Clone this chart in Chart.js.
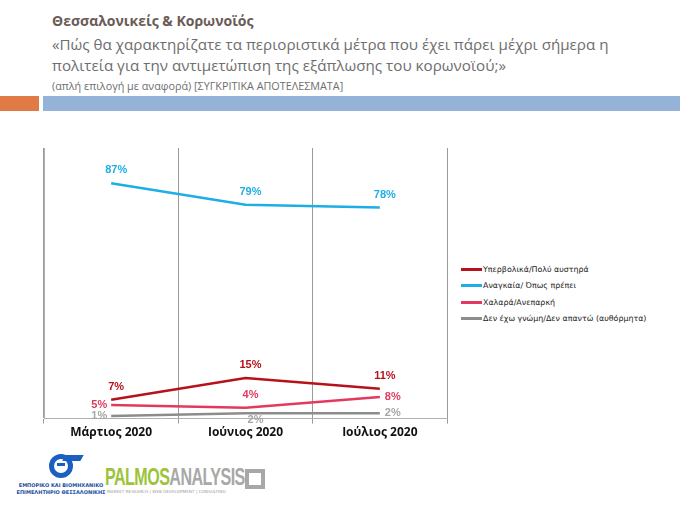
<!DOCTYPE html>
<html>
<head>
<meta charset="utf-8">
<script src="https://cdn.jsdelivr.net/npm/chart.js@4"></script>
<style>
  body { margin: 0; width: 680px; height: 510px; background: #fff; position: relative; overflow: hidden; font-family: "Open Sans", sans-serif; }
  .hdr { position: absolute; left: 52px; color: #6e6e6e; white-space: nowrap; }
  #title { top: 11px; font-size: 14px; font-weight: bold; color: #6b5b57; }
  #q1 { top: 34px; font-size: 15.2px; }
  #q2 { top: 55px; font-size: 15.2px; }
  #sub { top: 78px; font-size: 10.8px; }
  #barO { position: absolute; left: 0; top: 96px; width: 39px; height: 15px; background: #e07b45; }
  #barB { position: absolute; left: 43px; top: 96px; width: 637px; height: 15px; background: #95b3d7; }
  #wrap { position: absolute; left: 0; top: 130px; width: 455px; height: 320px; }
  #legend { position: absolute; left: 461px; top: 261px; font-family: "DejaVu Sans", sans-serif; font-size: 7.9px; color: #222; }
  #legend div { height: 16.5px; display: flex; align-items: center; }
  #legend span.sw { display: inline-block; width: 21px; height: 3px; margin-right: 1px; }
  #logo1 { position: absolute; left: 8px; top: 454px; width: 106px; text-align: center; color: #1b4fa0; font-size: 5px; font-weight: bold; font-family: "DejaVu Sans", sans-serif; line-height: 7px; white-space: nowrap; }
  #logo1 .ic { width: 24px; height: 24px; border-radius: 50%; border: 5px solid #1b5fc0; margin: 0 auto 4px auto; box-sizing: border-box; position: relative; }
  #logo1 .ic::after { content: ''; position: absolute; left: 3px; top: 4px; width: 8px; height: 3px; background: #1b5fc0; }
  #logo1 .wing { position: absolute; left: 56px; top: 1px; width: 18px; height: 6px; background: #1b5fc0; transform: skewX(-30deg); }
  #logo2 { position: absolute; left: 105px; top: 464px; font-family: "Liberation Sans", sans-serif; font-weight: bold; font-size: 23px; letter-spacing: -0.8px; transform: scaleX(0.7); transform-origin: left top; white-space: nowrap; }
  #logo2 .g { color: #9cc43b; }
  #logo2 .a { color: #a8a8a8; }
  #tag { position: absolute; left: 107px; top: 489px; font-family: "DejaVu Sans", sans-serif; font-size: 4.2px; color: #999; white-space: nowrap; }
  #sq { position: absolute; left: 245px; top: 469px; width: 12px; height: 12px; border: 4px solid #a8a8a8; }
</style>
</head>
<body>
<div id="title" class="hdr">Θεσσαλονικείς &amp; Κορωνοϊός</div>
<div id="q1" class="hdr">«Πώς θα χαρακτηρίζατε τα περιοριστικά μέτρα που έχει πάρει μέχρι σήμερα η</div>
<div id="q2" class="hdr">πολιτεία για την αντιμετώπιση της εξάπλωσης του κορωνοϊού;»</div>
<div id="sub" class="hdr">(απλή επιλογή με αναφορά) [ΣΥΓΚΡΙΤΙΚΑ ΑΠΟΤΕΛΕΣΜΑΤΑ]</div>
<div id="barO"></div><div id="barB"></div>
<div id="wrap"><canvas id="chart"></canvas></div>
<div id="legend"></div>
<div id="logo1"><div class="wing"></div><div class="ic"></div>ΕΜΠΟΡΙΚΟ ΚΑΙ ΒΙΟΜΗΧΑΝΙΚΟ<br>ΕΠΙΜΕΛΗΤΗΡΙΟ ΘΕΣΣΑΛΟΝΙΚΗΣ</div>
<div id="logo2"><span class="g">PALMOS</span><span class="a">ANALYSIS</span></div>
<div id="tag">MARKET RESEARCH | WEB DEVELOPMENT | CONSULTING</div>
<div id="sq"></div>
<script>
// categories and series (percent)
const months = ['Μάρτιος 2020', 'Ιούνιος 2020', 'Ιούλιος 2020'];
const seriesNames = ['Υπερβολικά/Πολύ αυστηρά', 'Αναγκαία/ Όπως πρέπει', 'Χαλαρά/Ανεπαρκή', 'Δεν έχω γνώμη/Δεν απαντώ (αυθόρμητα)'];
const strict = [7, 15, 11];
const needed = [87, 79, 78];
const loose = [5, 4, 8];
const noAnswer = [1, 2, 2];

const lineColors = ['#b5121b', '#1eaee6', '#e23a5f', '#8c8c8c'];
const labelColors = ['#b5121b', '#1eaee6', '#e23a5f', '#a6a6a6'];
// where each value label sits relative to its point
const labelPos = [
    ['top', 'top', 'top'],
    ['top', 'top', 'top'],
    ['left', 'top', 'right'],
    ['left', 'bottom', 'right']
];

const allValues = [strict, needed, loose, noAnswer];

// simple value labels
const valueLabels = {
    id: 'valueLabels',
    afterDatasetsDraw(chart) {
        const ctx = chart.ctx;
        ctx.save();
        ctx.font = 'bold 11px "Liberation Sans", Arial, sans-serif';
        chart.data.datasets.forEach((ds, i) => {
            chart.getDatasetMeta(i).data.forEach((pt, j) => {
                const pos = labelPos[i][j];
                let x = pt.x, y = pt.y;
                ctx.fillStyle = labelColors[i];
                ctx.textBaseline = 'middle';
                if (pos === 'top') { ctx.textAlign = 'center'; y -= 13; x += 5; }
                else if (pos === 'bottom') { ctx.textAlign = 'center'; y += 7; x += 10; }
                else if (pos === 'left') { ctx.textAlign = 'right'; x -= 4; }
                else { ctx.textAlign = 'left'; x += 5; }
                ctx.fillText(ds.data[j] + '%', x, y);
            });
        });
        ctx.restore();
    }
};

const chart = new Chart(document.getElementById('chart'), {
    type: 'line',
    data: {
        labels: months,
        datasets: allValues.map((vals, i) => ({
            label: seriesNames[i],
            data: vals,
            borderColor: lineColors[i],
            backgroundColor: lineColors[i],
            borderWidth: 2.5,
            pointRadius: 0,
            tension: 0
        }))
    },
    options: {
        responsive: true,
        maintainAspectRatio: false,
        animation: false,
        layout: { padding: { left: 36, right: 8, top: 18, bottom: 8 } },
        plugins: { legend: { display: false }, tooltip: { enabled: false } },
        scales: {
            x: {
                offset: true,
                grid: { offset: true, color: '#9a9a9a', lineWidth: 1, tickLength: 5 },
                border: { color: '#b0b0b0' },
                ticks: { color: '#111', font: { family: '"Open Sans", sans-serif', weight: 'bold', size: 12 }, padding: 2 }
            },
            y: {
                min: 0, max: 100,
                ticks: { display: false },
                grid: { display: false },
                border: { color: '#b0b0b0' }
            }
        }
    },
    plugins: [valueLabels]
});

// html legend built from the datasets
const leg = document.getElementById('legend');
seriesNames.forEach((name, i) => {
    const row = document.createElement('div');
    row.innerHTML = '<span class="sw" style="background:' + lineColors[i] + '"></span>' + name;
    leg.appendChild(row);
});
</script>
</body>
</html>
